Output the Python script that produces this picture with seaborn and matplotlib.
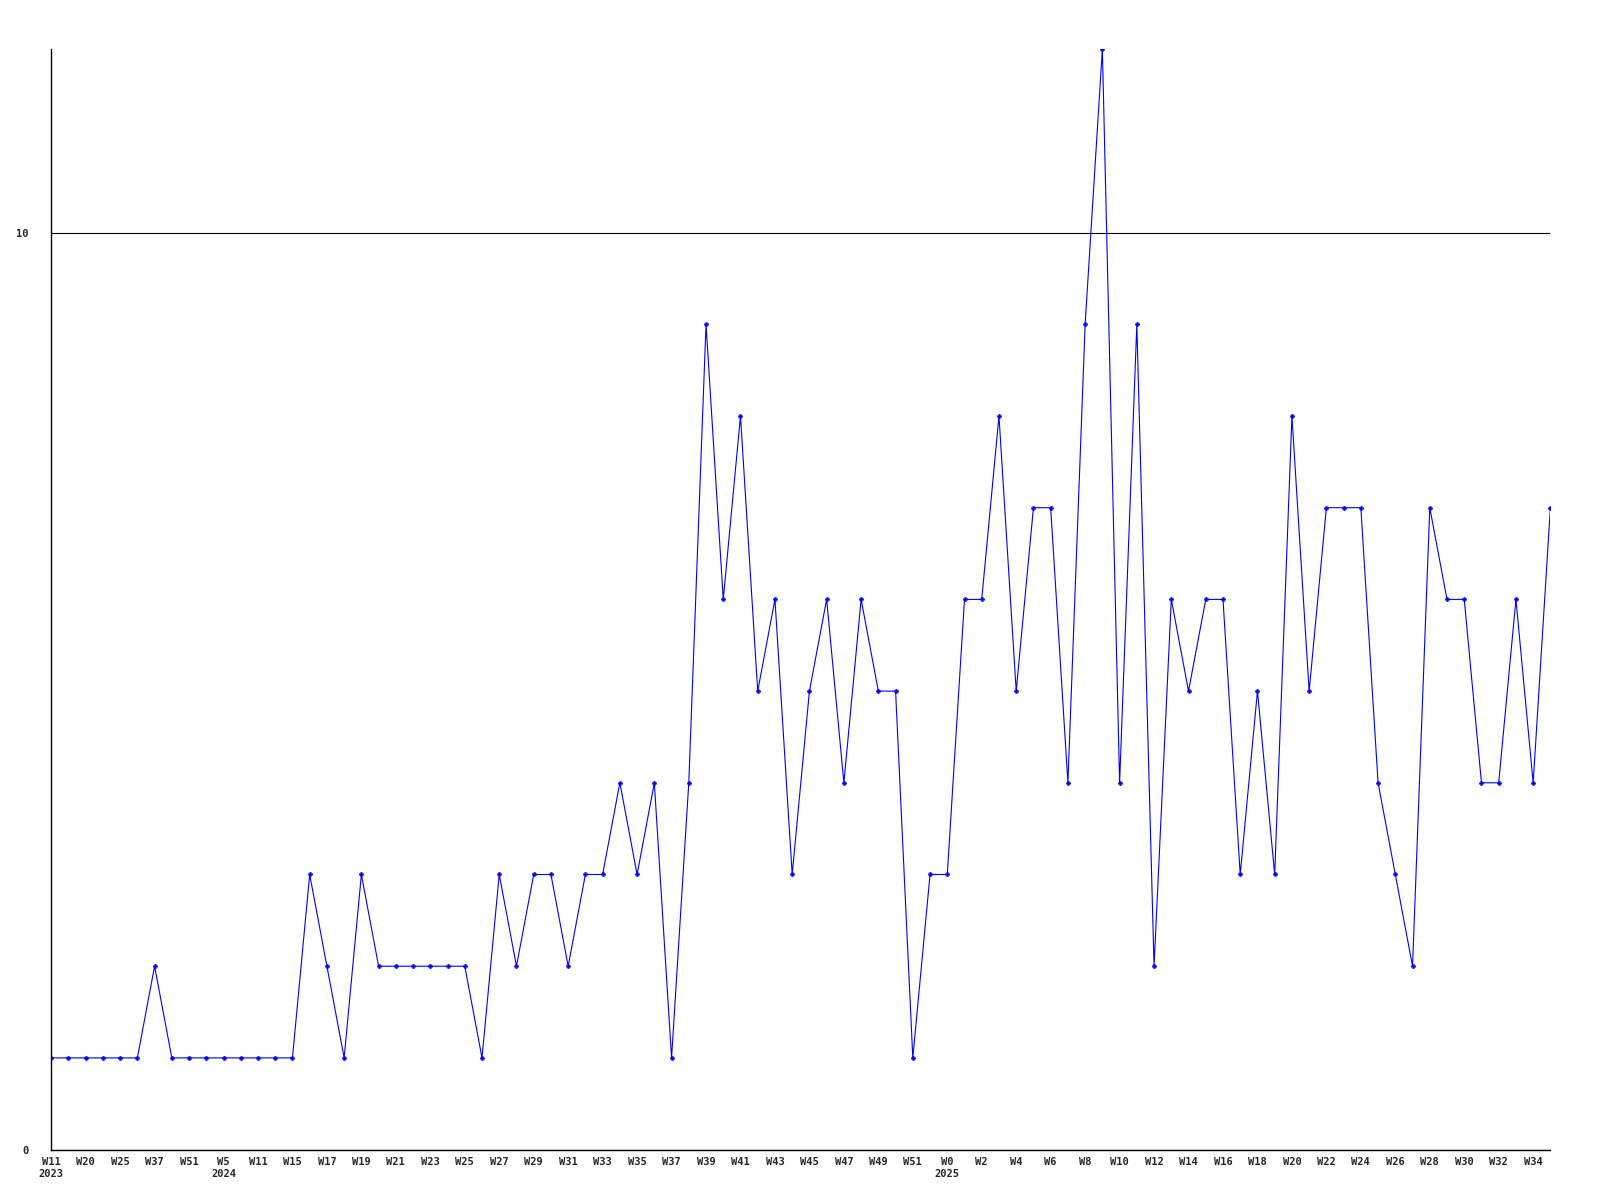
import matplotlib
matplotlib.use("Agg")
import matplotlib.pyplot as plt
import seaborn as sns
import pandas as pd
import numpy as np

# Week categories (unlabelled in-between weeks are guesses)
weeks = (["W11", "W15", "W20", "W22", "W25", "W30", "W37", "W45", "W51", "W1", "W5", "W8", "W11", "W13"]
         + ["W%d" % w for w in range(15, 53)]
         + ["W%d" % w for w in range(0, 36)])
years = {0: "2023", 10: "2024", 52: "2025"}

values = [1, 1, 1, 1, 1, 1, 2, 1, 1, 1,
          1, 1, 1, 1, 1, 3, 2, 1, 3, 2,
          2, 2, 2, 2, 2, 1, 3, 2, 3, 3,
          2, 3, 3, 4, 3, 4, 1, 4, 9, 6,
          8, 5, 6, 3, 5, 6, 4, 6, 5, 5,
          1, 3, 3, 6, 6, 8, 5, 7, 7, 4,
          9, 12, 4, 9, 2, 6, 5, 6, 6, 3,
          5, 3, 8, 5, 7, 7, 7, 4, 3, 2,
          7, 6, 6, 4, 4, 6, 4, 7]

y_ticks = [0, 10]

df = pd.DataFrame({"idx": np.arange(len(values)), "count": values})

sns.set_style("white")
plt.rcParams["font.family"] = ["DejaVu Sans Mono"]

fig = plt.figure(figsize=(16, 12), dpi=100)
ax = fig.add_axes([0.032, 0.042, 0.937, 0.917])

sns.lineplot(data=df, x="idx", y="count", ax=ax, color="#0000ff", linewidth=0.8,
             marker="P", markersize=3.2, markeredgewidth=0.3, markeredgecolor="#0000ff")

ax.set_xlim(0, len(values) - 1)
ax.set_ylim(0, 12)

tick_pos = list(range(0, len(values) - 1, 2))
tick_lab = []
for i in tick_pos:
    lab = weeks[i]
    if i in years:
        lab += "\n" + years[i]
    tick_lab.append(lab)
ax.set_xticks(tick_pos)
ax.set_xticklabels(tick_lab, fontsize=7.5, fontweight="bold", linespacing=1.3)
ax.set_yticks(y_ticks)
ax.set_yticklabels([str(v) for v in y_ticks], fontsize=7.5, fontweight="bold")
ax.tick_params(axis="both", length=0)
ax.tick_params(axis="x", pad=5)
ax.tick_params(axis="y", pad=16)
for lab in ax.get_xticklabels():
    lab.set_verticalalignment("top")

ax.yaxis.grid(True, color="black", linewidth=0.8)
ax.set_axisbelow(True)
ax.set_xlabel("")
ax.set_ylabel("")
for s in ["top", "right"]:
    ax.spines[s].set_visible(False)
for s in ["left", "bottom"]:
    ax.spines[s].set_color("black")
    ax.spines[s].set_linewidth(1.0)

fig.savefig("out.png", dpi=100, facecolor="white")
